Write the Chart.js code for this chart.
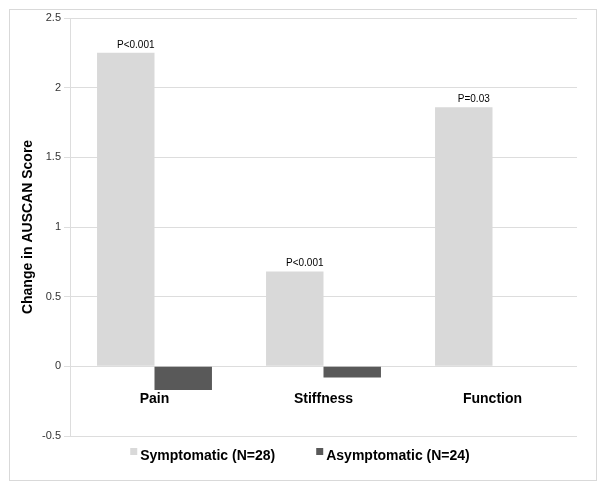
<!DOCTYPE html>
<html>
<head>
<meta charset="utf-8">
<script src="https://cdn.jsdelivr.net/npm/chart.js@4/dist/chart.umd.min.js"></script>
<style>
    html, body { margin: 0; padding: 0; background: #ffffff; }
    canvas { display: block; }
</style>
</head>
<body>
<canvas id="auscanChart" width="604" height="488"></canvas>
<script>
// Chart data
const categories = ['Pain', 'Stiffness', 'Function'];
const symptomaticValues = [2.25, 0.68, 1.86];
const asymptomaticValues = [-0.17, -0.08, 0];
const pValueLabels = ['P<0.001', 'P<0.001', 'P=0.03'];
const seriesNames = ['Symptomatic (N=28)', 'Asymptomatic (N=24)'];

const FONT = '"Liberation Sans", Arial, sans-serif';

// Outer frame round the whole figure
const framePlugin = {
    id: 'frame',
    beforeDraw(chart) {
        const ctx = chart.ctx;
        ctx.save();
        ctx.fillStyle = '#ffffff';
        ctx.fillRect(0, 0, chart.width, chart.height);
        ctx.strokeStyle = '#d9d9d9';
        ctx.lineWidth = 1;
        ctx.strokeRect(9.5, 9.5, 587, 471);
        ctx.restore();
    }
};

// P-values over the symptomatic bars, category names under the zero line, legend
const labelsPlugin = {
    id: 'labels',
    afterDatasetsDraw(chart) {
        const ctx = chart.ctx;
        const x = chart.scales.x;
        const y = chart.scales.y;
        const zeroY = y.getPixelForValue(0);
        ctx.save();

        // p-values
        ctx.fillStyle = '#000000';
        ctx.font = '10px ' + FONT;
        ctx.textAlign = 'center';
        ctx.textBaseline = 'bottom';
        chart.getDatasetMeta(0).data.forEach((bar, i) => {
            ctx.fillText(pValueLabels[i], bar.x + 10, bar.y - 3);
        });

        // category names
        ctx.font = 'bold 14px ' + FONT;
        ctx.textBaseline = 'middle';
        categories.forEach((name, i) => {
            ctx.fillText(name, x.getPixelForValue(i), zeroY + 33);
        });

        // legend
        ctx.textAlign = 'left';
        const datasets = chart.data.datasets;
        const widths = datasets.map(ds => 10 + ctx.measureText(ds.label).width);
        const gap = 41;
        const total = widths.reduce((a, b) => a + b, 0) + gap * (datasets.length - 1);
        let lx = (chart.width - total) / 2 - 2;
        const ly = 455;
        datasets.forEach((ds, i) => {
            ctx.fillStyle = ds.backgroundColor;
            ctx.fillRect(lx, ly - 7, 7, 7);
            ctx.fillStyle = '#000000';
            ctx.fillText(ds.label, lx + 10, ly + 1);
            lx += widths[i] + gap;
        });
        ctx.restore();
    }
};

const ctx = document.getElementById('auscanChart').getContext('2d');
const chart = new Chart(ctx, {
    type: 'bar',
    data: {
        labels: categories,
        datasets: [
            {
                label: seriesNames[0],
                data: symptomaticValues,
                backgroundColor: '#d9d9d9',
                borderWidth: 0
            },
            {
                label: seriesNames[1],
                data: asymptomaticValues,
                backgroundColor: '#595959',
                borderWidth: 0
            }
        ]
    },
    options: {
        responsive: false,
        animation: false,
        devicePixelRatio: 1,
        layout: {
            padding: { left: 10, top: 18, right: 27, bottom: 52 }
        },
        datasets: {
            bar: {
                categoryPercentage: 0.68,
                barPercentage: 1.0
            }
        },
        plugins: {
            legend: { display: false },
            tooltip: { enabled: false }
        },
        scales: {
            x: {
                display: false
            },
            y: {
                min: -0.5,
                max: 2.5,
                afterFit(scale) {
                    scale.width = 60;  // keeps the plot's left edge at x=70
                },
                ticks: {
                    stepSize: 0.5,
                    padding: 3,
                    color: '#333333',
                    font: { family: FONT, size: 11 },
                    callback: value => String(value)  // "2" not "2.0"
                },
                grid: {
                    color: '#dddddd',
                    tickLength: 6,
                    tickColor: '#dddddd'
                },
                border: {
                    display: true,
                    color: '#dddddd'
                },
                title: {
                    display: true,
                    text: 'Change in AUSCAN Score',
                    color: '#000000',
                    padding: { top: 10, bottom: 0 },
                    font: { family: FONT, size: 14, weight: 'bold' }
                }
            }
        }
    },
    plugins: [framePlugin, labelsPlugin]
});
</script>
</body>
</html>
